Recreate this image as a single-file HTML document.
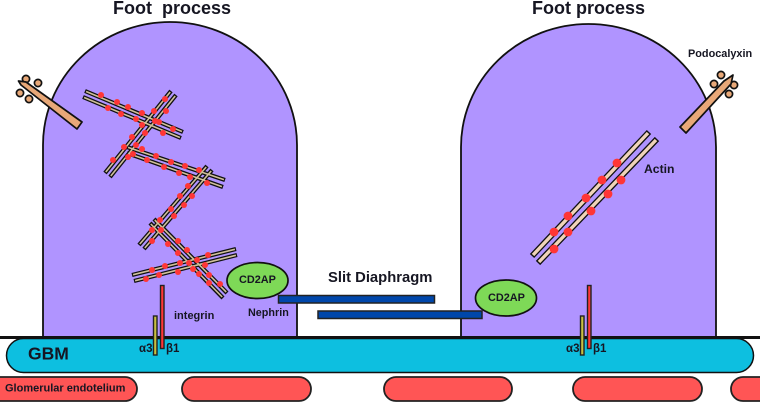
<!DOCTYPE html>
<html><head><meta charset="utf-8"><style>
html,body{margin:0;padding:0;background:#fff;width:760px;height:405px;overflow:hidden}
svg{display:block}
text{font-family:"Liberation Sans",sans-serif;font-weight:bold;fill:#161622}
</style></head><body>
<svg width="760" height="405" viewBox="0 0 760 405" xmlns="http://www.w3.org/2000/svg">
<path d="M43 337V145A127 123 0 0 1 297 145V337Z" fill="#b094ff" stroke="#111" stroke-width="1.800"/>
<path d="M461 337V147A127.500 123 0 0 1 716 147V337Z" fill="#b094ff" stroke="#111" stroke-width="1.800"/>

<rect x="6.500" y="338.500" width="747" height="34" rx="17" fill="#0dbfe0" stroke="#111" stroke-width="1.500"/>
<rect x="-30" y="377" width="167" height="24" rx="12" fill="#ff5555" stroke="#222" stroke-width="1.800"/>
<rect x="182" y="377" width="129" height="24" rx="12" fill="#ff5555" stroke="#222" stroke-width="1.800"/>
<rect x="384" y="377" width="128" height="24" rx="12" fill="#ff5555" stroke="#222" stroke-width="1.800"/>
<rect x="573" y="377" width="129" height="24" rx="12" fill="#ff5555" stroke="#222" stroke-width="1.800"/>
<rect x="731" y="377" width="60" height="24" rx="12" fill="#ff5555" stroke="#222" stroke-width="1.800"/>
<rect x="0" y="336" width="760" height="3" fill="#111"/>

<g stroke="#111" stroke-width="4.200" fill="none">
<path d="M85 91L183 132M83 97L181 138M171 91L105 173M176 95L110 177M127 147L225 180M127 153L223 187M207 166L139 245M212 170L144 249M154 219L227 293M150 223L223 298M236 249L132 275M237 255L134 281"/>
</g>
<g stroke="#d0c09a" stroke-width="1.600" fill="none">
<path d="M86.100 91.500L181.900 131.500M84.100 97.500L179.900 137.500M170.200 92L105.800 172M175.200 96L110.800 176M128.100 147.400L223.900 179.600M128.100 153.400L221.900 186.600M206.200 167L139.800 244M211.200 171L144.800 248M154.800 220L226.200 292M150.800 224L222.200 297M234.900 249.300L133.100 274.700M235.900 255.300L135.100 280.700"/>
</g>
<g fill="#ff3636">
<circle cx="101" cy="95" r="3"/><circle cx="117" cy="102" r="3"/><circle cx="128" cy="107" r="3"/><circle cx="142" cy="113" r="3"/><circle cx="154" cy="111" r="3"/><circle cx="165" cy="99" r="3"/><circle cx="166" cy="111" r="3"/><circle cx="108" cy="108" r="3"/><circle cx="121" cy="114" r="3"/><circle cx="136" cy="119" r="3"/><circle cx="142" cy="125" r="3"/><circle cx="155" cy="121" r="3"/><circle cx="159" cy="122" r="3"/><circle cx="145" cy="133" r="3"/><circle cx="163" cy="133" r="3"/><circle cx="173" cy="129" r="3"/><circle cx="132" cy="137" r="3"/><circle cx="124" cy="147" r="3"/><circle cx="136" cy="145" r="3"/><circle cx="142" cy="149" r="3"/><circle cx="156" cy="156" r="3"/><circle cx="171" cy="162" r="3"/><circle cx="185" cy="166" r="3"/><circle cx="199" cy="170" r="3"/><circle cx="113" cy="160" r="3"/><circle cx="128" cy="157" r="3"/><circle cx="133" cy="154" r="3"/><circle cx="147" cy="160" r="3"/><circle cx="164" cy="167" r="3"/><circle cx="179" cy="173" r="3"/><circle cx="190" cy="177" r="3"/><circle cx="207" cy="183" r="3"/><circle cx="188" cy="186" r="3"/>
<circle cx="180" cy="196" r="3"/><circle cx="192" cy="196" r="3"/><circle cx="184" cy="205" r="3"/><circle cx="171" cy="209" r="3"/><circle cx="174" cy="216" r="3"/><circle cx="160" cy="220" r="3"/><circle cx="152" cy="230" r="3"/><circle cx="161" cy="230" r="3"/><circle cx="152" cy="241" r="3"/><circle cx="168" cy="244" r="3"/><circle cx="178" cy="241" r="3"/><circle cx="178" cy="253" r="3"/><circle cx="187" cy="250" r="3"/><circle cx="189" cy="263" r="3"/><circle cx="197" cy="260" r="3"/><circle cx="208" cy="255" r="3"/><circle cx="205" cy="265" r="3"/><circle cx="180" cy="263" r="3"/><circle cx="165" cy="266" r="3"/><circle cx="152" cy="270" r="3"/><circle cx="178" cy="272" r="3"/><circle cx="159" cy="275" r="3"/><circle cx="146" cy="279" r="3"/><circle cx="199" cy="274" r="3"/><circle cx="209" cy="275" r="3"/><circle cx="209" cy="283" r="3"/><circle cx="220" cy="284" r="3"/><circle cx="193" cy="269" r="3"/>
</g>

<path d="M649 132L532 256M657 139L538 263" stroke="#111" stroke-width="6" fill="none"/>
<path d="M648 133L533 255M656 140L539 262" stroke="#f0d4b8" stroke-width="3.400" fill="none"/>
<g fill="#ff3636">
<circle cx="617" cy="163" r="4.400"/><circle cx="602" cy="180" r="4.400"/><circle cx="621" cy="180" r="4.400"/><circle cx="608" cy="194" r="4.400"/><circle cx="586" cy="198" r="4.400"/><circle cx="591" cy="211" r="4.400"/><circle cx="568" cy="216" r="4.400"/><circle cx="554" cy="232" r="4.400"/><circle cx="568" cy="232" r="4.400"/><circle cx="554" cy="249" r="4.400"/>
</g>

<g fill="#e8a878" stroke="#111" stroke-width="1.700" stroke-linejoin="round">
<circle cx="26" cy="79" r="3.600"/><circle cx="38" cy="83" r="3.600"/><circle cx="20" cy="93" r="3.600"/><circle cx="29" cy="99" r="3.600"/>
<path d="M18.500 81L26 82L82 122L77 129L21 85Z"/>
<circle cx="721" cy="75" r="3.600"/><circle cx="714" cy="84" r="3.600"/><circle cx="734" cy="85" r="3.600"/><circle cx="729" cy="94" r="3.600"/>
<path d="M733 75L731 84L686 133L680 127L724 81Z"/>
</g>

<rect x="278.500" y="295.500" width="156" height="7.500" fill="#0047ab" stroke="#222" stroke-width="1.500"/>
<rect x="318" y="311" width="164" height="7.500" fill="#0047ab" stroke="#222" stroke-width="1.500"/>
<ellipse cx="257.500" cy="280.500" rx="30.500" ry="18" fill="#7ed957" stroke="#111" stroke-width="1.700"/>
<ellipse cx="506" cy="298" rx="30.500" ry="18" fill="#7ed957" stroke="#111" stroke-width="1.700"/>

<g stroke="#222" stroke-width="1.400">
<rect x="160.500" y="285.500" width="3.500" height="63" fill="#ff3636"/>
<rect x="153.500" y="316" width="3.500" height="39" fill="#c8c040"/>
<rect x="587.500" y="285.500" width="3.500" height="63" fill="#ff3636"/>
<rect x="580.500" y="316" width="3.500" height="39" fill="#c8c040"/>
</g>

<text x="113" y="14" font-size="18" xml:space="preserve">Foot  process</text>
<text x="532" y="14" font-size="18">Foot process</text>
<text x="328" y="282" font-size="14.800">Slit Diaphragm</text>
<text x="688" y="57" font-size="10.900">Podocalyxin</text>
<text x="644" y="173" font-size="12.200">Actin</text>
<text x="174" y="319" font-size="11">integrin</text>
<text x="248" y="316" font-size="10.800">Nephrin</text>
<text x="239" y="283" font-size="10.900">CD2AP</text>
<text x="488" y="301" font-size="10.900">CD2AP</text>
<text x="28" y="359.500" font-size="17.500">GBM</text>
<text x="5" y="391.500" font-size="11">Glomerular endotelium</text>
<text x="139" y="352" font-size="11.500">α3</text>
<text x="166" y="352" font-size="11.500">β1</text>
<text x="566" y="352" font-size="11.500">α3</text>
<text x="593" y="352" font-size="11.500">β1</text>
</svg>
</body></html>
